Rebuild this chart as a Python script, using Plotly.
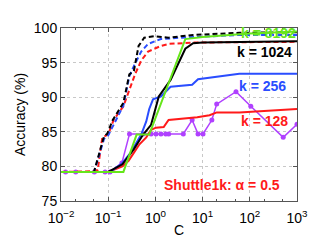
import plotly.graph_objects as go

# ---- data ----
c_k1024_d = [0.01, 0.05, 0.082, 0.095, 0.125, 0.21, 0.28, 0.35, 0.44, 0.58, 0.93, 1.9, 6.3, 60, 1000]
a_k1024_d = [79.2, 79.2, 84.4, 84.7, 86.7, 89.2, 93.3, 93.8, 97.4, 98.6, 98.8, 98.6, 99.0, 99.3, 99.4]

c_k256_d = [0.01, 0.05, 0.082, 0.1, 0.13, 0.21, 0.28, 0.35, 0.5, 0.7, 1.3, 3.4, 60, 1000]
a_k256_d = [79.2, 79.2, 84.0, 84.5, 86.0, 88.8, 93.0, 94.5, 96.6, 97.7, 98.4, 98.6, 99.0, 99.0]

c_k128_d = [0.01, 0.045, 0.06, 0.075, 0.1, 0.13, 0.21, 0.3, 0.37, 0.5, 0.7, 1.3, 1.9, 6.3, 1000]
a_k128_d = [79.2, 79.3, 79.5, 84.2, 84.6, 86.7, 88.7, 91.5, 93.3, 95.3, 96.6, 97.4, 97.7, 97.9, 98.0]

c_k8192 = [0.01, 0.21, 0.4, 0.74, 4.3, 10, 100, 1000]
a_k8192 = [79.2, 79.2, 84.6, 84.6, 98.4, 98.7, 99.2, 99.5]

c_k1024 = [0.01, 0.1, 0.2, 0.35, 0.55, 0.81, 1.18, 2.1, 4.3, 6.3, 10, 1000]
a_k1024 = [79.2, 79.2, 80.3, 82.5, 84.6, 86.0, 90.1, 92.5, 97.0, 97.8, 97.9, 98.1]

c_k256 = [0.01, 0.11, 0.2, 0.3, 0.5, 0.64, 0.74, 0.89, 1.3, 2.1, 6.0, 8.0, 60, 1000]
a_k256 = [79.2, 79.2, 80.5, 82.0, 84.6, 86.5, 88.3, 89.7, 90.1, 91.5, 91.8, 92.6, 93.4, 93.4]

c_k128 = [0.01, 0.1, 0.2, 0.27, 0.36, 0.46, 0.64, 0.81, 1.03, 1.5, 1.9, 7.7, 14, 20, 60, 1000]
a_k128 = [79.2, 79.2, 80.0, 80.8, 82.1, 83.2, 84.2, 85.3, 85.6, 85.7, 86.7, 87.1, 87.4, 87.8, 87.8, 88.3]

c_other = [0.0125, 0.0205, 0.051, 0.086, 0.109, 0.195, 0.283, 0.553, 0.81, 1.03, 1.31, 1.66, 1.91,
           3.9, 6.0, 8.0, 10.2, 15.7, 19.9, 51, 105, 510, 1000]
a_other = [79.2, 79.2, 79.2, 79.2, 79.2, 80.5, 84.7, 84.7, 84.7, 84.7, 84.7, 84.7, 84.7,
           84.7, 86.7, 84.7, 84.7, 86.7, 89.0, 90.8, 88.7, 84.2, 86.1]

x_tickvals = [0.01, 0.1, 1, 10, 100, 1000]
x_ticktext = ["10<sup>−2</sup>", "10<sup>−1</sup>", "10<sup>0</sup>", "10<sup>1</sup>", "10<sup>2</sup>", "10<sup>3</sup>"]
y_tickvals = [75, 80, 85, 90, 95, 100]

BLACK = "#000000"
BLUE = "#2a4dff"
RED = "#ff1a1a"
GREEN = "#66e61a"
PURPLE = "#b040ff"
FONT = "Liberation Sans, Arial, sans-serif"

fig = go.Figure()

fig.add_trace(go.Scatter(x=c_other, y=a_other, mode="lines+markers",
                         line=dict(color=PURPLE, width=1.5), marker=dict(color=PURPLE, size=5)))
for c, a, col in [(c_k128_d, a_k128_d, RED), (c_k256_d, a_k256_d, BLUE), (c_k1024_d, a_k1024_d, BLACK)]:
    fig.add_trace(go.Scatter(x=c, y=a, mode="lines", line=dict(color=col, width=2, dash="5px,3px")))
for c, a, col in [(c_k128, a_k128, RED), (c_k256, a_k256, BLUE), (c_k1024, a_k1024, BLACK), (c_k8192, a_k8192, GREEN)]:
    fig.add_trace(go.Scatter(x=c, y=a, mode="lines", line=dict(color=col, width=2)))

annots = [
    ("k = 8192", 260, 23, GREEN),
    ("k = 1024", 256, 43, BLACK),
    ("k = 256", 254, 79, BLUE),
    ("k = 128", 256, 116, RED),
    ("Shuttle1k: α = 0.5", 212, 183, RED),
]
for txt, px, py, col in annots:
    fig.add_annotation(text="<b>" + txt + "</b>", xref="paper", yref="paper",
                       x=(px - 48) / 241, y=1 - (py - 18) / 182, showarrow=False,
                       xanchor="center", yanchor="middle",
                       font=dict(family=FONT, size=14, color=col))

axis_common = dict(showline=True, linecolor="#555555", linewidth=1, mirror="ticks",
                   ticks="inside", ticklen=4, tickcolor="#555555",
                   showgrid=True, gridcolor="#c8c8c8", griddash="dot", gridwidth=1,
                   zeroline=False,
                   tickfont=dict(family=FONT, size=14, color=BLACK))

fig.update_xaxes(type="log", range=[-2, 3], tickvals=x_tickvals, ticktext=x_ticktext,
                 ticklabelstandoff=4,
                 minor=dict(ticks="inside", ticklen=2, tickcolor="#555555", showgrid=False),
                 title=dict(text="C", font=dict(family=FONT, size=14, color=BLACK), standoff=0),
                 **axis_common)
fig.update_yaxes(range=[75, 100], tickvals=y_tickvals,
                 title=dict(text="Accuracy (%)", font=dict(family=FONT, size=14, color=BLACK), standoff=4),
                 **axis_common)

fig.update_layout(width=319, height=240, margin=dict(l=48, r=30, t=18, b=40),
                  plot_bgcolor="white", paper_bgcolor="white", showlegend=False)

fig.write_html("out.html")
